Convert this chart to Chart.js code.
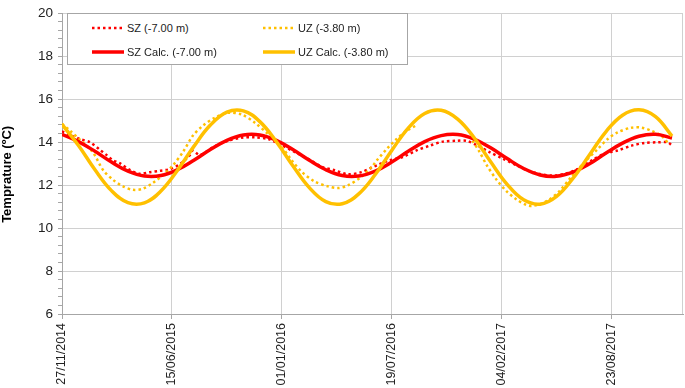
<!DOCTYPE html>
<html>
<head>
<meta charset="utf-8">
<script src="https://cdn.jsdelivr.net/npm/chart.js@4.4.0/dist/chart.umd.min.js"></script>
<style>
html, body { margin:0; padding:0; background:#fff; }
#wrap { position:relative; width:685px; height:388px; }
#legend { position:absolute; left:67px; top:13px; width:341px; height:52px; box-sizing:border-box;
	border:1px solid #a6a6a6; background:#fff;
	font-family:'Liberation Sans', Arial, sans-serif; font-size:11px; color:#222; }
.item { position:absolute; height:14px; display:flex; align-items:center; white-space:nowrap; }
.item canvas { margin-right:3px; }
</style>
</head>
<body>
<div id="wrap">
	<canvas id="chart" width="685" height="388"></canvas>
	<div id="legend"></div>
</div>
<script>
var font = "'Liberation Sans', Arial, sans-serif"

// x values are days since 27/11/2014
var tickLabels = ['27/11/2014', '15/06/2015', '01/01/2016', '19/07/2016', '04/02/2017', '23/08/2017']
var yTicks = [6, 8, 10, 12, 14, 16, 18, 20]

var seriesNames = ['SZ (-7.00 m)', 'UZ (-3.80 m)', 'SZ Calc. (-7.00 m)', 'UZ Calc. (-3.80 m)']

// measured, SZ (-7.00 m)
var szDays = [0, 15, 33, 51, 69, 82, 93, 105, 124, 142, 160, 178, 196, 215, 233, 238, 251, 275, 287, 302,
	327, 351, 375, 400, 424, 447, 473, 496, 520, 545, 564, 573, 596, 620, 645, 669, 693, 718, 736, 755,
	778, 802, 827, 845, 865, 891, 915, 938, 964, 987, 1011, 1036, 1060, 1084, 1102, 1109]
var szTemp = [14.50, 14.32, 14.14, 13.99, 13.64, 13.38, 13.15, 13.02, 12.69, 12.52, 12.60, 12.66, 12.74, 12.98, 13.40, 13.60, 13.40, 13.76, 13.91, 14.06,
	14.20, 14.22, 14.14, 13.85, 13.53, 13.23, 12.85, 12.69, 12.50, 12.60, 12.82, 12.92, 13.15, 13.30, 13.61, 13.83, 14.02, 14.06, 14.06, 13.85,
	13.53, 13.23, 12.92, 12.70, 12.54, 12.44, 12.52, 12.74, 13.15, 13.46, 13.61, 13.83, 13.96, 13.99, 13.99, 13.87]

// measured, UZ (-3.80 m), gap in the record around day 700
var uzDays = [0, 15, 33, 56, 75, 93, 111, 129, 147, 165, 184, 202, 220, 238, 256, 278, 302, 327, 351, 375,
	400, 418, 436, 460, 484, 502, 520, 545, 564, 573, 591, 609, 627, 645, 700, 747, 760, 773, 791, 809,
	827, 845, 855, 869, 887, 905, 927, 951, 975, 993, 1011, 1036, 1055, 1073, 1091, 1105]
var uzTemp = [14.85, 14.52, 14.10, 13.53, 12.69, 12.24, 11.94, 11.78, 11.83, 12.09, 12.47, 12.92, 13.53, 14.29, 14.75, 15.13, 15.36, 15.28, 14.90, 14.37,
	13.76, 13.15, 12.62, 12.16, 11.94, 11.86, 11.98, 12.39, 12.85, 13.15, 13.68, 14.14, 14.52, 14.78, null, 14.06, 13.53, 12.92, 12.24, 11.71,
	11.33, 11.07, 11.03, 11.10, 11.33, 11.71, 12.39, 13.07, 13.68, 14.14, 14.45, 14.67, 14.67, 14.52, 14.29, 13.88]

// calculated curves
var calcDays = [0, 30, 60, 90, 120, 150, 180, 210, 240, 270, 300, 330, 360, 390, 420, 450, 480, 510, 540, 570,
	600, 630, 660, 690, 720, 750, 780, 810, 840, 870, 900, 930, 960, 990, 1020, 1050, 1080, 1110]
var szCalc = [14.36, 14.02, 13.57, 13.07, 12.65, 12.42, 12.44, 12.71, 13.15, 13.65, 14.08, 14.33, 14.33, 14.08, 13.65, 13.15, 12.71, 12.44, 12.42, 12.65,
	13.07, 13.57, 14.02, 14.30, 14.35, 14.14, 13.73, 13.23, 12.77, 12.47, 12.41, 12.60, 12.99, 13.49, 13.95, 14.27, 14.36, 14.19]
var uzCalc = [14.82, 13.84, 12.71, 11.74, 11.18, 11.17, 11.72, 12.68, 13.80, 14.79, 15.39, 15.45, 14.95, 14.02, 12.90, 11.88, 11.23, 11.13, 11.59, 12.49,
	13.61, 14.65, 15.33, 15.48, 15.07, 14.20, 13.08, 12.03, 11.31, 11.11, 11.47, 12.32, 13.41, 14.49, 15.25, 15.50, 15.18, 14.28]

function points(days, temps){
	var out = []
	for (var i = 0; i < days.length; i++) out.push({x: days[i], y: temps[i]})
	return out
}

function isMajor(v){
	return yTicks.some(function(t){ return Math.abs(t - v) < 1e-6 })
}

var gridColor = '#d0d0d0'
var axisColor = '#a6a6a6'

var plotBorder = {
	id: 'plotBorder',
	beforeDatasetsDraw: function(chart){
		var a = chart.chartArea, ctx = chart.ctx
		ctx.save()
		ctx.strokeStyle = gridColor
		ctx.lineWidth = 1
		ctx.beginPath()
		ctx.moveTo(Math.round(a.right) - 0.5, a.top)
		ctx.lineTo(Math.round(a.right) - 0.5, a.bottom)
		ctx.stroke()
		ctx.restore()
	}
}

var ctx = document.getElementById('chart').getContext('2d')
var chart = new Chart(ctx, {
	type: 'line',
	data: {
		datasets: [{
			label: seriesNames[0],
			data: points(szDays, szTemp),
			borderColor: '#ff0000',
			borderWidth: 2.5,
			borderDash: [2.5, 3],
			tension: 0.3,
			order: 4
		}, {
			label: seriesNames[1],
			data: points(uzDays, uzTemp),
			borderColor: '#ffc000',
			borderWidth: 2.5,
			borderDash: [2.5, 3],
			tension: 0.3,
			spanGaps: false,
			order: 3
		}, {
			label: seriesNames[2],
			data: points(calcDays, szCalc),
			borderColor: '#ff0000',
			borderWidth: 3.5,
			tension: 0.4,
			order: 2
		}, {
			label: seriesNames[3],
			data: points(calcDays, uzCalc),
			borderColor: '#ffc000',
			borderWidth: 3.5,
			tension: 0.4,
			order: 1
		}]
	},
	options: {
		responsive: false,
		animation: false,
		layout: { padding: { left: 0, right: 2, top: 0, bottom: 0 } },
		elements: { point: { radius: 0 } },
		plugins: { legend: { display: false }, tooltip: { enabled: false } },
		scales: {
			x: {
				type: 'linear', min: 0, max: 1130,
				afterFit: function(s){ s.height = 74 },
				ticks: {
					stepSize: 200, includeBounds: false, autoSkip: false,
					minRotation: 90, maxRotation: 90, padding: 4, color: '#222',
					font: { family: font, size: 12.5 },
					callback: function(v){ return tickLabels[Math.round(v / 200)] }
				},
				grid: { color: gridColor, tickColor: axisColor, tickLength: 5 },
				border: { color: axisColor }
			},
			y: {
				min: 6, max: 20,
				afterFit: function(s){ s.width = 62 },
				ticks: {
					stepSize: 0.4, autoSkip: false, padding: 5, color: '#222',
					font: { family: font, size: 13.5 },
					callback: function(v){ return isMajor(v) ? String(Math.round(v)) : '' }
				},
				grid: {
					color: function(c){ return isMajor(c.tick.value) ? gridColor : 'rgba(0,0,0,0)' },
					tickColor: axisColor, tickLength: 4
				},
				border: { color: axisColor },
				title: {
					display: true, text: 'Temprature (ºC)      ', color: '#000',
					font: { family: font, size: 13, weight: 'bold' },
					padding: { top: 0, bottom: 0 }
				}
			}
		}
	},
	plugins: [plotBorder]
})

// legend box, two columns, drawn from the datasets
function drawLegend(chart){
	var box = document.getElementById('legend')
	box.innerHTML = ''
	chart.data.datasets.forEach(function(ds, i){
		var item = box.appendChild(document.createElement('div'))
		item.className = 'item'
		item.style.left = (i % 2 ? 195 : 24) + 'px'
		item.style.top = (i < 2 ? 6.5 : 30.5) + 'px'
		var c = item.appendChild(document.createElement('canvas'))
		c.width = 32; c.height = 6
		var g = c.getContext('2d')
		g.strokeStyle = ds.borderColor
		g.lineWidth = ds.borderWidth
		g.setLineDash(ds.borderDash || [])
		g.beginPath(); g.moveTo(0, 3); g.lineTo(32, 3); g.stroke()
		var t = item.appendChild(document.createElement('span'))
		t.textContent = ds.label
	})
}
drawLegend(chart)
</script>
</body>
</html>
